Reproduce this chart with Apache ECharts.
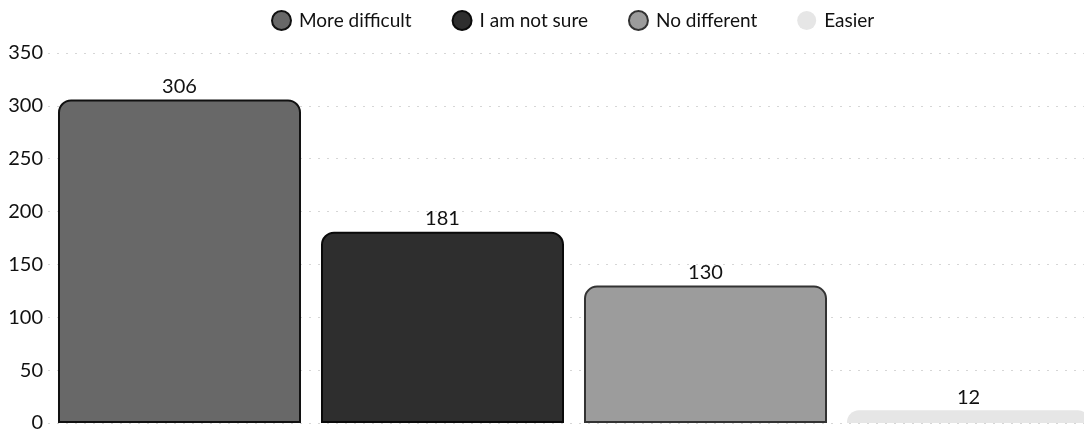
<!DOCTYPE html>
<html><head><meta charset="utf-8">
<script src="https://cdn.jsdelivr.net/npm/echarts@6/dist/echarts.min.js"></script>
<style>html,body{margin:0;padding:0;background:#fff}#c{width:1084px;height:432px}</style>
</head><body><div id="c"></div>
<script>
const categories = ['More difficult', 'I am not sure', 'No different', 'Easier'];
const values = [306, 181, 130, 12];
const yTicks = [0, 50, 100, 150, 200, 250, 300, 350];
const colors = ['#686868', '#2e2e2e', '#9c9c9c', '#e6e6e6'];
const borders = ['#111111', '#0a0a0a', '#333333', '#e6e6e6'];

const series = categories.map((name, i) => ({
  name: name,
  type: 'bar',
  stack: 'all',
  barWidth: '92.4%',
  data: categories.map((c, j) => j === i ? values[i] : '-'),
  itemStyle: { color: colors[i], borderColor: borders[i], borderWidth: i === 3 ? 0 : 2, borderRadius: [12, 12, 0, 0] },
  label: { show: true, position: 'top', color: '#111', fontFamily: 'Lato', fontSize: 20, distance: 3 }
}));

const chart = echarts.init(document.getElementById('c'));
chart.setOption({
  animation: false,
  legend: {
    top: 5, left: 266, itemGap: 40, icon: 'circle', itemWidth: 19, itemHeight: 19,
    textStyle: { fontFamily: 'Lato', fontSize: 19, color: '#111', padding: [0, 0, 0, 3] },
    data: categories
  },
  grid: { left: 48, width: 1052, top: 53, bottom: 9, outerBoundsMode: 'none', containLabel: false },
  xAxis: { type: 'category', data: categories, show: false },
  yAxis: {
    type: 'value', min: yTicks[0], max: yTicks[yTicks.length - 1], interval: 50,
    axisLabel: { fontFamily: 'Lato', fontSize: 20, color: '#111', margin: 5 },
    axisLine: { show: false }, axisTick: { show: false },
    splitLine: { lineStyle: { color: '#d6d6d6', type: [2, 7] } }
  },
  series: series
});
</script></body></html>
